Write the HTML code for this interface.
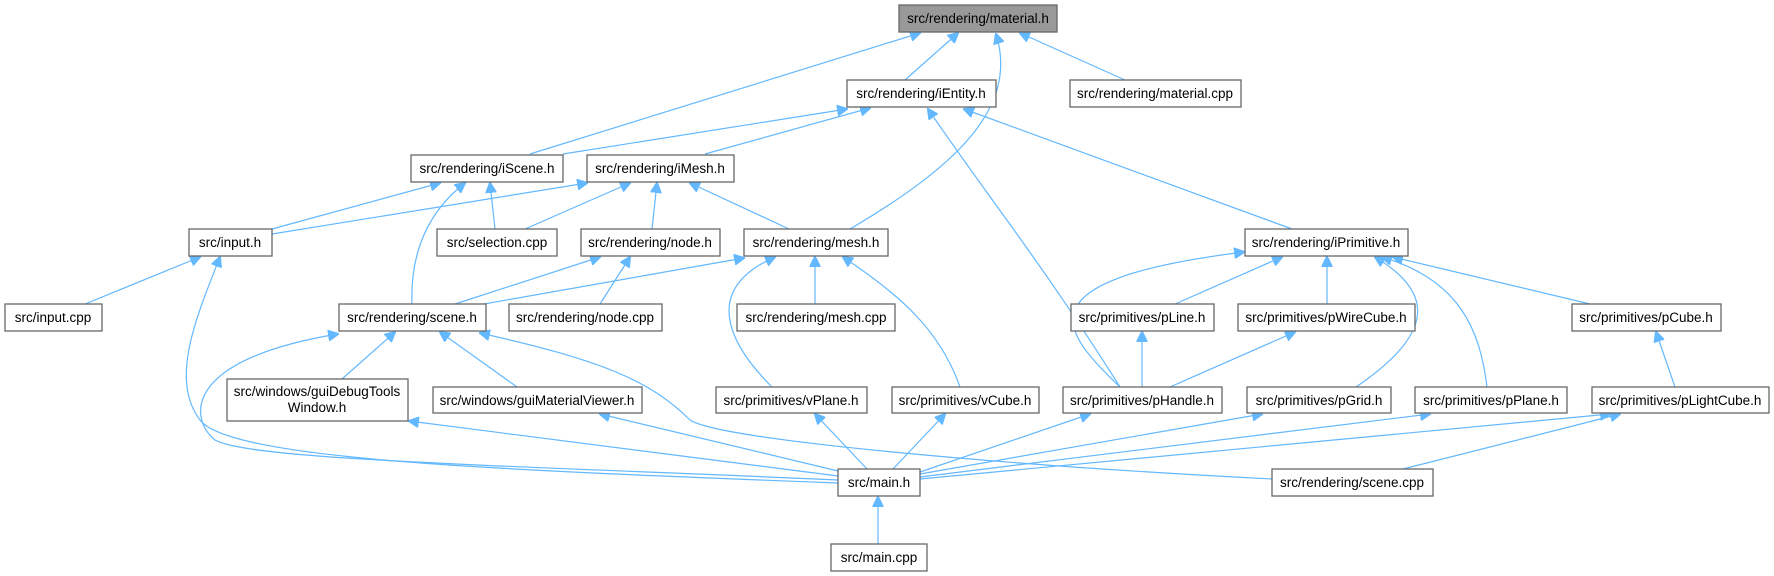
<!DOCTYPE html>
<html><head><meta charset="utf-8"><style>
html,body{margin:0;padding:0;background:#fff;}
svg{display:block;}
text{font-family:"Liberation Sans",Arial,sans-serif;font-size:13.5px;fill:#000;}
.n{fill:#fff;stroke:#666;stroke-width:1.3;}
.e{fill:none;stroke:#63b8ff;stroke-width:1.2;marker-end:url(#a);}
</style></head><body>
<svg width="1774" height="576" viewBox="0 0 1774 576" xmlns="http://www.w3.org/2000/svg">
<defs><marker id="a" viewBox="0 0 10 10" refX="9" refY="5" markerWidth="11" markerHeight="11" markerUnits="userSpaceOnUse" orient="auto"><path d="M0,0 L10,5 L0,10 z" fill="#63b8ff" stroke="#63b8ff"/></marker></defs>
<g>
<path class="e" d="M530,154 L920,33"/>
<path class="e" d="M905,80 L958,33"/>
<path class="e" d="M850,229 C950,170 1020,110 996,34"/>
<path class="e" d="M1125,80 L1020,33"/>
<path class="e" d="M563,154 L847,109"/>
<path class="e" d="M705,154 L870,108"/>
<path class="e" d="M1120,387 C1040,260 990,200 928,109"/>
<path class="e" d="M1292,229 L964,109"/>
<path class="e" d="M272,229 L440,183"/>
<path class="e" d="M272,234 L587,183"/>
<path class="e" d="M495,229 L490,183"/>
<path class="e" d="M412,304 C410,250 430,210 465,183"/>
<path class="e" d="M525,229 L630,183"/>
<path class="e" d="M652,229 L657,183"/>
<path class="e" d="M789,229 L690,183"/>
<path class="e" d="M85,304 L200,257"/>
<path class="e" d="M838,483 C500,470 230,460 200,420 C170,380 195,320 220,257"/>
<path class="e" d="M455,304 L600,257"/>
<path class="e" d="M600,304 L630,257"/>
<path class="e" d="M484,304 L744,258"/>
<path class="e" d="M815,304 L815,257"/>
<path class="e" d="M772,387 C730,345 700,290 775,257"/>
<path class="e" d="M960,387 C940,330 900,295 843,257"/>
<path class="e" d="M1120,387 C1060,330 1020,280 1244,252"/>
<path class="e" d="M1175,304 L1282,257"/>
<path class="e" d="M1327,304 L1327,257"/>
<path class="e" d="M1356,387 C1440,330 1430,290 1375,257"/>
<path class="e" d="M1487,387 C1480,330 1460,280 1382,257"/>
<path class="e" d="M1590,304 L1393,257"/>
<path class="e" d="M1142,387 L1142,332"/>
<path class="e" d="M1170,387 L1295,332"/>
<path class="e" d="M1675,387 L1656,332"/>
<path class="e" d="M342,379 L395,332"/>
<path class="e" d="M517,387 L440,332"/>
<path class="e" d="M838,480 C500,465 250,460 215,440 C190,420 180,360 338,334"/>
<path class="e" d="M1272,479 C1000,465 720,440 690,420 C650,380 600,360 480,333"/>
<path class="e" d="M838,476 L409,421"/>
<path class="e" d="M838,471 L600,414"/>
<path class="e" d="M867,469 L815,414"/>
<path class="e" d="M893,469 L945,414"/>
<path class="e" d="M920,472 L1090,414"/>
<path class="e" d="M920,474 L1262,414"/>
<path class="e" d="M920,477 L1430,414"/>
<path class="e" d="M920,479 L1610,414"/>
<path class="e" d="M1403,469 L1620,414"/>
<path class="e" d="M878,544 L878,497"/>
</g>
<g>
<rect x="899" y="5" width="158" height="27" style="fill:#999;stroke:#666;stroke-width:1.3"/><text x="978" y="23" text-anchor="middle">src/rendering/material.h</text>
<rect class="n" x="847" y="80" width="149" height="27"/><text x="921" y="98" text-anchor="middle">src/rendering/iEntity.h</text>
<rect class="n" x="1070" y="80" width="171" height="27"/><text x="1155" y="98" text-anchor="middle">src/rendering/material.cpp</text>
<rect class="n" x="411" y="155" width="152" height="27"/><text x="487" y="173" text-anchor="middle">src/rendering/iScene.h</text>
<rect class="n" x="587" y="155" width="147" height="27"/><text x="660" y="173" text-anchor="middle">src/rendering/iMesh.h</text>
<rect class="n" x="189" y="229" width="83" height="27"/><text x="230" y="247" text-anchor="middle">src/input.h</text>
<rect class="n" x="437" y="229" width="120" height="27"/><text x="497" y="247" text-anchor="middle">src/selection.cpp</text>
<rect class="n" x="581" y="229" width="139" height="27"/><text x="650" y="247" text-anchor="middle">src/rendering/node.h</text>
<rect class="n" x="744" y="229" width="144" height="27"/><text x="816" y="247" text-anchor="middle">src/rendering/mesh.h</text>
<rect class="n" x="1245" y="229" width="163" height="27"/><text x="1326" y="247" text-anchor="middle">src/rendering/iPrimitive.h</text>
<rect class="n" x="5" y="304" width="97" height="27"/><text x="53" y="322" text-anchor="middle">src/input.cpp</text>
<rect class="n" x="339" y="304" width="147" height="27"/><text x="412" y="322" text-anchor="middle">src/rendering/scene.h</text>
<rect class="n" x="509" y="304" width="153" height="27"/><text x="585" y="322" text-anchor="middle">src/rendering/node.cpp</text>
<rect class="n" x="737" y="304" width="158" height="27"/><text x="816" y="322" text-anchor="middle">src/rendering/mesh.cpp</text>
<rect class="n" x="1071" y="304" width="143" height="27"/><text x="1142" y="322" text-anchor="middle">src/primitives/pLine.h</text>
<rect class="n" x="1238" y="304" width="177" height="27"/><text x="1326" y="322" text-anchor="middle">src/primitives/pWireCube.h</text>
<rect class="n" x="1572" y="304" width="149" height="27"/><text x="1646" y="322" text-anchor="middle">src/primitives/pCube.h</text>
<rect class="n" x="227" y="379" width="181" height="42"/><text x="317" y="396" text-anchor="middle">src/windows/guiDebugTools</text><text x="317" y="412" text-anchor="middle">Window.h</text>
<rect class="n" x="433" y="387" width="209" height="26"/><text x="537" y="405" text-anchor="middle">src/windows/guiMaterialViewer.h</text>
<rect class="n" x="716" y="387" width="151" height="26"/><text x="791" y="405" text-anchor="middle">src/primitives/vPlane.h</text>
<rect class="n" x="892" y="387" width="147" height="26"/><text x="965" y="405" text-anchor="middle">src/primitives/vCube.h</text>
<rect class="n" x="1063" y="387" width="159" height="26"/><text x="1142" y="405" text-anchor="middle">src/primitives/pHandle.h</text>
<rect class="n" x="1247" y="387" width="144" height="26"/><text x="1319" y="405" text-anchor="middle">src/primitives/pGrid.h</text>
<rect class="n" x="1415" y="387" width="152" height="26"/><text x="1491" y="405" text-anchor="middle">src/primitives/pPlane.h</text>
<rect class="n" x="1592" y="387" width="177" height="26"/><text x="1680" y="405" text-anchor="middle">src/primitives/pLightCube.h</text>
<rect class="n" x="838" y="469" width="82" height="27"/><text x="879" y="487" text-anchor="middle">src/main.h</text>
<rect class="n" x="1272" y="469" width="161" height="27"/><text x="1352" y="487" text-anchor="middle">src/rendering/scene.cpp</text>
<rect class="n" x="831" y="544" width="96" height="27"/><text x="879" y="562" text-anchor="middle">src/main.cpp</text>
</g>
</svg>
</body></html>
